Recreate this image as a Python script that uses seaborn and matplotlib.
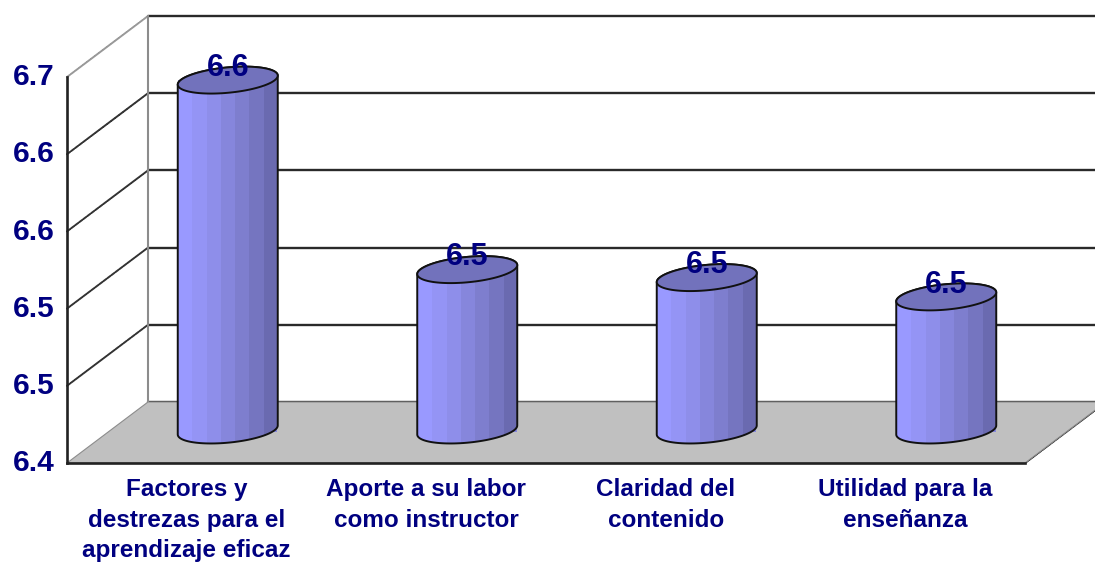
import numpy as np
import pandas as pd
import matplotlib.pyplot as plt
import seaborn as sns
from matplotlib.colors import ListedColormap
from matplotlib.patches import ConnectionPatch, Polygon
from matplotlib.transforms import IdentityTransform, ScaledTranslation

# datos
categorias = ['Factores y\ndestrezas para el\naprendizaje eficaz',
              'Aporte a su labor\ncomo instructor',
              'Claridad del\ncontenido',
              'Utilidad para la\nenseñanza']
valores = [6.6735, 6.5262, 6.520, 6.505]
etiquetas = ['6.6', '6.5', '6.5', '6.5']
marcas_y = [6.40, 6.46, 6.52, 6.58, 6.64, 6.70]
marcas_txt = ['6.4', '6.5', '6.5', '6.6', '6.6', '6.7']
tonos = ['#9999FF', '#9494F5', '#8E8EEA', '#8686DC', '#7E7ECE', '#7575C0', '#6A6AB0']

sns.set_theme(style='white')
plt.rcParams['font.family'] = ['Liberation Sans', 'DejaVu Sans']

W, H = 1095, 566
ANCHO = 958
AZUL = '#000080'
fig = plt.figure(figsize=(W / 100, H / 100), dpi=100, facecolor='white')


def plano(dx, dy):
    # un plano del grafico 3D, desplazado en pixeles respecto al frontal
    a = fig.add_axes([(67 + dx) / W, (H - 463 - dy) / H, ANCHO / W, 386 / H])
    a.set_xlim(-0.5, 3.5)
    a.set_ylim(6.4, 6.7)
    a.patch.set_alpha(0)
    return a


# pared del fondo
pared = plano(81, -61)
pared.set_zorder(1)
pared.set_yticks(marcas_y)
pared.set_xticks([])
pared.tick_params(left=False, labelleft=False)
pared.grid(axis='y', color='#2a2a2a', lw=1.7)
for linea in pared.get_ygridlines():
    linea.set_clip_on(False)
sns.despine(ax=pared, top=True, right=True, bottom=True)
pared.spines['left'].set_color('#8c8c8c')
pared.spines['left'].set_linewidth(1.5)

# plano frontal con los ejes
ax = plano(0, 0)
ax.set_zorder(2)
ax.set_yticks(marcas_y, marcas_txt, fontsize=21.5, fontweight='bold', color=AZUL)
ax.set_xticks([-0.5, 0.5, 1.5, 2.5, 3.5], [''] * 5)
ax.set_xticks([0, 1, 2, 3], categorias, minor=True, fontsize=17.5, fontweight='bold',
              color=AZUL, linespacing=1.42, va='top')
ax.tick_params(axis='y', length=6, width=1.5, color='#222222', pad=3)
ax.tick_params(axis='x', which='major', length=6, width=1.5, color='#222222', direction='out')
ax.tick_params(axis='x', which='minor', length=0, pad=11)
subir = ScaledTranslation(0, 2 / 72, fig.dpi_scale_trans)
for lab in ax.get_yticklabels():
    lab.set_transform(lab.get_transform() + subir)
sns.despine(ax=ax, top=True, right=True)
for lado in ['left', 'bottom']:
    ax.spines[lado].set_color('#222222')
    ax.spines[lado].set_linewidth(1.9)

# suelo gris
fig.canvas.draw()
esquinas = [ax.transData.transform((-0.5, 6.4)), ax.transData.transform((3.5, 6.4)),
            pared.transData.transform((3.5, 6.4)), pared.transData.transform((-0.5, 6.4))]
suelo = Polygon(esquinas, closed=True, transform=IdentityTransform(), facecolor='#C0C0C0',
                edgecolor='#8c8c8c', lw=0.8, zorder=1.5)
fig.add_artist(suelo)
borde_der = ConnectionPatch((3.5, 6.4), (3.5, 6.4), 'data', 'data', axesA=ax, axesB=pared,
                            color='#222222', lw=1.5, ls=(0, (2, 0.6)))
fig.add_artist(borde_der)

# diagonales de la pared lateral
for v in marcas_y[1:]:
    c = '#999999' if v == marcas_y[-1] else '#333333'
    diag = ConnectionPatch((-0.5, v), (-0.5, v), 'data', 'data', axesA=ax, axesB=pared,
                           color=c, lw=1.4, ls=(0, (2, 0.6)))
    fig.add_artist(diag)

# cilindros
barras = plano(41, -31)
barras.set_zorder(3)
tabla = pd.DataFrame({'categoria': categorias, 'valor': valores})
sns.barplot(data=tabla, x='categoria', y='valor', width=0.415, color=tonos[3],
            saturation=1, ax=barras)
barras.set_xlabel('')
barras.set_ylabel('')
barras.set_xticks([])
barras.set_yticks([])
sns.despine(ax=barras, left=True, bottom=True)

px_x = ANCHO / 4
px_y = 386 / 0.3
t = np.linspace(0, 2 * np.pi, 121)


def elipse(cx, cy, ang):
    # elipse algo inclinada, como en el grafico original
    a, b, k = 50.0, 12.7, 4.5
    x = cx + a * np.cos(ang) / px_x
    y = cy + (b * np.sin(ang) + k * np.cos(ang)) / px_y
    return np.column_stack([x, y])


contenedor = barras.containers[0]
for p, v in zip(contenedor.patches, valores):
    x0 = p.get_x()
    cx = x0 + p.get_width() / 2
    p.set_y(6.4)
    p.set_height(v - 6.4)
    p.set_edgecolor('none')

    arriba = elipse(cx, v, t[:61])
    abajo = elipse(cx, 6.4 + 2 / px_y, t[60:121])
    cuerpo = Polygon(np.vstack([arriba, abajo]), closed=True, transform=barras.transData,
                     facecolor='none', edgecolor='#111111', lw=1.4, clip_on=False, zorder=4)
    barras.add_patch(cuerpo)
    im = barras.imshow(np.arange(len(tonos))[None, :], cmap=ListedColormap(tonos),
                       extent=[x0, x0 + p.get_width(), 6.35, v + 0.03], aspect='auto',
                       interpolation='nearest', zorder=3)
    im.set_clip_box(fig.bbox)
    im.set_clip_path(cuerpo)
    tapa = Polygon(elipse(cx, v, t), closed=True, transform=barras.transData,
                   facecolor='#7272BC', edgecolor='#111111', lw=1.4, clip_on=False, zorder=5)
    barras.add_patch(tapa)

barras.set_xlim(-0.5, 3.5)
barras.set_ylim(6.4, 6.7)

textos = barras.bar_label(contenedor, labels=etiquetas, padding=-2,
                          fontsize=22, fontweight='bold', color=AZUL)
for txt in textos:
    txt.set_zorder(6)
    txt.set_clip_on(False)

plt.savefig('out.png', dpi=100)
